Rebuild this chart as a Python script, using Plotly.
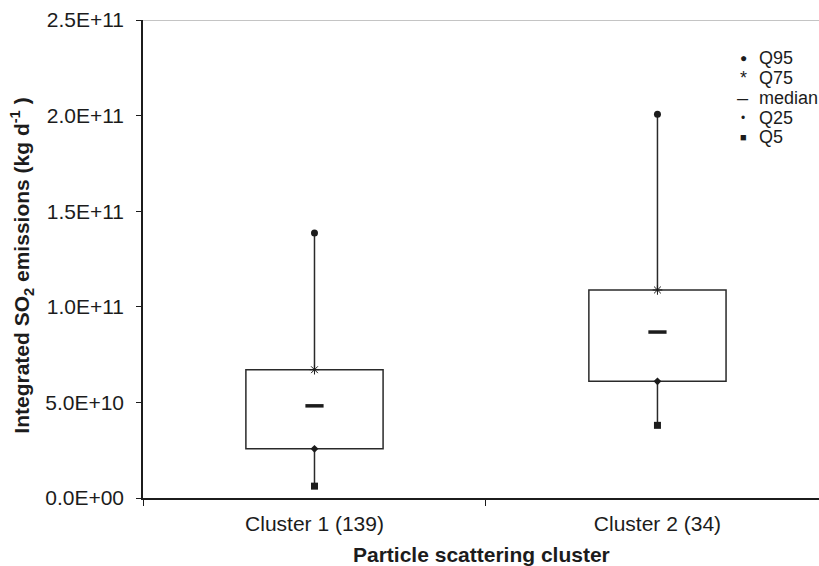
import plotly.graph_objects as go

# Integrated SO2 emissions (kg/day) per particle scattering cluster
categories = ["Cluster 1 (139)", "Cluster 2 (34)"]
q95 = [1.386e11, 2.007e11]
q75 = [0.671e11, 1.088e11]
median = [0.482e11, 0.868e11]
q25 = [0.257e11, 0.610e11]
q5 = [0.062e11, 0.380e11]

y_ticks = [0, 0.5e11, 1.0e11, 1.5e11, 2.0e11, 2.5e11]
y_tick_labels = ["0.0E+00", "5.0E+10", "1.0E+11", "1.5E+11", "2.0E+11", "2.5E+11"]

legend_labels = ["Q95", "Q75", "median", "Q25", "Q5"]
legend_symbols = ["\u25CF", "*", "\u2013", "\u2022", "\u25A0"]
legend_symbol_sizes = [12, 18, 20, 12, 11]

pos = list(range(len(categories)))
ink = "#1c1c1c"
font = "Liberation Sans, Arial, sans-serif"

fig = go.Figure()

# interquartile boxes
fig.add_trace(go.Bar(
    x=pos, y=[hi - lo for hi, lo in zip(q75, q25)], base=q25, width=0.4,
    marker=dict(color="white", line=dict(color="#2a2a2a", width=1.5)),
    showlegend=False, hoverinfo="skip",
))

# whiskers: Q5 -> Q25 and Q75 -> Q95
wx, wy = [], []
for p, a, b, c, d in zip(pos, q5, q25, q75, q95):
    wx += [p, p, None, p, p, None]
    wy += [a, b, None, c, d, None]
fig.add_trace(go.Scatter(x=wx, y=wy, mode="lines",
                         line=dict(color="#2a2a2a", width=1.5),
                         showlegend=False, hoverinfo="skip"))

marker_specs = [
    (q95, dict(symbol="circle", size=7, color=ink)),
    (q75, dict(symbol="asterisk-open", size=8, color=ink, line=dict(color=ink, width=1))),
    (median, dict(symbol="line-ew-open", size=13, color=ink, line=dict(color=ink, width=3.5))),
    (q25, dict(symbol="diamond", size=6, color=ink)),
    (q5, dict(symbol="square", size=7, color=ink)),
]
for vals, mk in marker_specs:
    fig.add_trace(go.Scatter(x=pos, y=vals, mode="markers", marker=mk,
                             showlegend=False))

# key in the upper right corner
key_y = [0.9206, 0.8788, 0.8370, 0.7952, 0.7555]
annotations = []
for lab, sym, sz, ky in zip(legend_labels, legend_symbols, legend_symbol_sizes, key_y):
    annotations.append(dict(x=0.8876, y=ky, xref="paper", yref="paper",
                            text=sym, showarrow=False, xanchor="center",
                            yanchor="middle", font=dict(size=sz, color=ink, family=font)))
    annotations.append(dict(x=0.908, y=ky, xref="paper", yref="paper",
                            text=lab, showarrow=False, xanchor="left",
                            yanchor="middle", font=dict(size=18, color=ink, family=font)))

# axis titles
annotations.append(dict(x=0.5, y=-0.118, xref="paper", yref="paper",
                        text="<b>Particle scattering cluster</b>", showarrow=False,
                        xanchor="center", yanchor="middle",
                        font=dict(size=21, color=ink, family=font)))
annotations.append(dict(x=-0.179, y=0.486, xref="paper", yref="paper",
                        text="<b>Integrated SO<sub>2</sub> emissions (kg d<sup>-1</sup> )</b>",
                        showarrow=False, textangle=-90, xanchor="center", yanchor="middle",
                        font=dict(size=21, color=ink, family=font)))

fig.update_layout(
    width=819, height=566,
    margin=dict(l=143, r=0, t=20, b=67.5),
    paper_bgcolor="white", plot_bgcolor="white",
    font=dict(family=font, size=21, color=ink),
    showlegend=False,
    annotations=annotations,
    shapes=[dict(type="line", xref="paper", yref="y", x0=0, x1=1,
                 y0=y_ticks[-1], y1=y_ticks[-1], line=dict(color="#8a8a8a", width=1.2))],
    xaxis=dict(
        range=[-0.5, 1.471], tickvals=pos, ticktext=categories, ticks="",
        showgrid=False, zeroline=False, showline=True, linecolor=ink, linewidth=2.2,
        ticklabelstandoff=6,
        minor=dict(tickmode="linear", tick0=-0.5, dtick=1, ticks="outside",
                   ticklen=6, tickcolor=ink, tickwidth=1.2),
    ),
    yaxis=dict(
        range=[0, 2.5e11], tickvals=y_ticks, ticktext=y_tick_labels,
        ticks="outside", ticklen=5, tickcolor=ink, tickwidth=1.2,
        showgrid=False, zeroline=False, showline=True, linecolor=ink, linewidth=1.5,
        ticklabelstandoff=8,
    ),
)

fig.write_html("out.html")
